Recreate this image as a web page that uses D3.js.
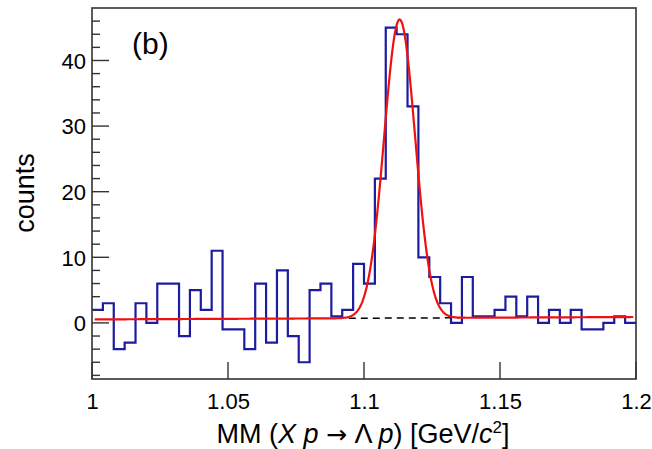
<!DOCTYPE html>
<html>
<head>
<meta charset="utf-8">
<script src="https://cdn.jsdelivr.net/npm/d3@7"></script>
<style>
  html, body { margin: 0; padding: 0; background: #fff; }
  svg { display: block; }
  text { font-family: "Liberation Sans", Arial, Helvetica, sans-serif; fill: #000; }
</style>
</head>
<body>
<svg id="chart" width="652" height="449"></svg>
<script>
// ---- data ----
const binLow = 1.0;
const binWidth = 0.004;
const counts = [2, 3, -4, -3, 3, 0, 6, 6, -2, 5,
                2, 11, -1, -1, -4, 6, -3, 8, -2, -6,
                5, 6, 1, 2, 9, 6, 22, 45, 44, 33,
                10, 7, 3, 0, 7, 1, 1, 2, 4, 1,
                4, 0, 2, 0, 2, -1, -1, 0, 1, 0];
// fit: gaussian + linear background (parameters)
const fitAmp = 45.5, fitMean = 1.1131, fitSigma = 0.0057;
const bkgAt1 = 0.53, bkgSlope = 1.85;
const fitRange = [1.001, 1.199];
const bkgDashRange = [1.09, 1.135];
const xTicks = [1, 1.05, 1.1, 1.15, 1.2];
const xTickLabels = ["1", "1.05", "1.1", "1.15", "1.2"];
const yMajorTicks = [0, 10, 20, 30, 40];
const yMinorTicks = d3.range(-8, 47, 2).filter(v => v % 10 !== 0);

// ---- layout ----
const svg = d3.select("#chart");
const L = 92, R = 636, T = 8, B = 379;
const x = d3.scaleLinear().domain([1.0, 1.2]).range([L, R]);
const y = d3.scaleLinear().domain([-8.55, 48]).range([B, T]);

// histogram outline
const steps = [];
counts.forEach((c, i) => {
  steps.push([binLow + i * binWidth, c]);
  steps.push([binLow + (i + 1) * binWidth, c]);
});
svg.append("path")
  .attr("d", d3.line().x(d => x(d[0])).y(d => y(d[1]))(steps))
  .attr("fill", "none").attr("stroke", "#1c1c9e").attr("stroke-width", 2.2)
  .attr("stroke-linejoin", "miter");

// background dashed
const bkg = v => bkgAt1 + bkgSlope * (v - 1);
svg.append("line")
  .attr("x1", x(bkgDashRange[0])).attr("x2", x(bkgDashRange[1]))
  .attr("y1", y(bkg(bkgDashRange[0]))).attr("y2", y(bkg(bkgDashRange[1])))
  .attr("stroke", "#000").attr("stroke-width", 1.5).attr("stroke-dasharray", "7,5");

// fit curve
const fit = v => bkg(v) + fitAmp * Math.exp(-0.5 * Math.pow((v - fitMean) / fitSigma, 2));
const fx = d3.range(0, 801).map(i => fitRange[0] + (fitRange[1] - fitRange[0]) * i / 800);
svg.append("path")
  .attr("d", d3.line().x(v => x(v)).y(v => y(fit(v)))(fx))
  .attr("fill", "none").attr("stroke", "#f01010").attr("stroke-width", 2.2);

// frame
svg.append("rect").attr("x", L).attr("y", T).attr("width", R - L).attr("height", B - T)
  .attr("fill", "none").attr("stroke", "#333").attr("stroke-width", 1.6);

// x axis
const xAxis = d3.axisBottom(x).tickValues(xTicks).tickSize(0)
  .tickFormat((d, i) => xTickLabels[i]).tickPadding(14);
const gx = svg.append("g").attr("transform", `translate(0,${B})`).call(xAxis);
gx.select(".domain").remove();
gx.selectAll("text").attr("font-size", 22).style("font-family", '"Liberation Sans", Arial, sans-serif').attr("fill", "#000");
svg.selectAll(".xtick").data(xTicks).enter().append("line")
  .attr("x1", d => x(d)).attr("x2", d => x(d)).attr("y1", B).attr("y2", B - 17)
  .attr("stroke", "#333").attr("stroke-width", 1.4);

// y axis
const yAxis = d3.axisLeft(y).tickValues(yMajorTicks).tickSize(0).tickPadding(6);
const gy = svg.append("g").attr("transform", `translate(${L},0)`).call(yAxis);
gy.select(".domain").remove();
gy.selectAll("text").attr("font-size", 22).attr("dy", "0.35em").style("font-family", '"Liberation Sans", Arial, sans-serif').attr("fill", "#000");
svg.selectAll(".ymaj").data(yMajorTicks).enter().append("line")
  .attr("x1", L).attr("x2", L + 17).attr("y1", d => y(d)).attr("y2", d => y(d))
  .attr("stroke", "#333").attr("stroke-width", 1.4);
svg.selectAll(".ymin").data(yMinorTicks).enter().append("line")
  .attr("x1", L).attr("x2", L + 8).attr("y1", d => y(d)).attr("y2", d => y(d))
  .attr("stroke", "#333").attr("stroke-width", 1.4);

// labels
svg.append("text").attr("transform", "translate(34,193) rotate(-90)")
  .attr("text-anchor", "middle").attr("font-size", 27).text("counts");

svg.append("text").attr("x", 132).attr("y", 54).attr("font-size", 30).text("(b)");

const title = svg.append("text").attr("x", (L + R) / 2 - 1).attr("y", 443)
  .attr("text-anchor", "middle").attr("font-size", 27);
title.append("tspan").text("MM (");
title.append("tspan").attr("font-style", "italic").text("X");
title.append("tspan").text(" ");
title.append("tspan").attr("font-style", "italic").text("p");
title.append("tspan").text(" ");
title.append("tspan").style("font-family", '"DejaVu Sans", sans-serif').attr("font-size", 25).text("\u2192");
title.append("tspan").text(" \u039B ");
title.append("tspan").attr("font-style", "italic").text("p");
title.append("tspan").text(") [GeV/");
title.append("tspan").attr("font-style", "italic").text("c");
title.append("tspan").attr("font-size", 17).attr("dy", -10).text("2");
title.append("tspan").attr("dy", 10).text("]");
</script>
</body>
</html>
